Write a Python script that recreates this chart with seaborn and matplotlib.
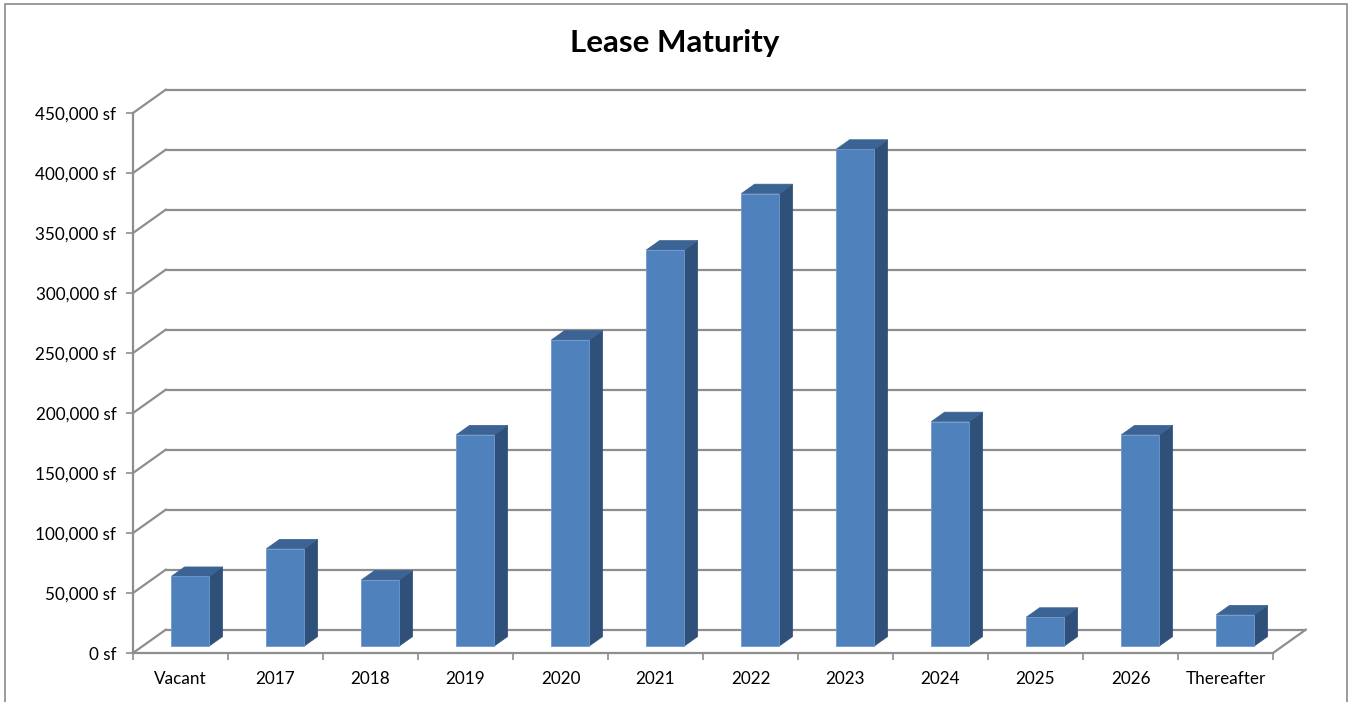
import matplotlib
matplotlib.use("Agg")
import matplotlib.pyplot as plt
from matplotlib.patches import Polygon, Rectangle
import seaborn as sns

# Lease maturity schedule (square feet)
categories = ["Vacant", "2017", "2018", "2019", "2020", "2021", "2022",
              "2023", "2024", "2025", "2026", "Thereafter"]
square_feet = [58000, 81000, 55000, 176000, 255000, 330000, 377000,
               414000, 187000, 24000, 176000, 26000]
y_ticks = [0, 50000, 100000, 150000, 200000, 250000, 300000, 350000,
           400000, 450000]
y_tick_labels = [f"{v:,} sf" for v in y_ticks]
title = "Lease Maturity"

sns.set_theme(style="white")
plt.rcParams["font.family"] = ["Lato", "DejaVu Sans"]

W, H, DPI = 1351, 702, 100
fig = plt.figure(figsize=(W / DPI, H / DPI), dpi=DPI)

# axes geometry in pixels
px_left, px_right, px_top, px_bottom = 133, 1312, 82, 653
px_per_cat = 95.0
px_per_sf = 540.0 / 450000
ax = fig.add_axes([px_left / W, 1 - px_bottom / H,
                   (px_right - px_left) / W, (px_bottom - px_top) / H])

n = len(categories)
x_lo = -0.5
x_hi = x_lo + (px_right - px_left) / px_per_cat
y_hi = (px_bottom - px_top) / px_per_sf

# oblique depth of the floor, in data units
DX = 33.0 / px_per_cat
DY = 23.5 / px_per_sf
bar_front, bar_depth = 0.3, 0.4

front = "#4F81BD"
side = "#2F5079"
top = "#3B6393"
grid = "#8E8E8E"

sns.barplot(x=categories, y=square_feet, color=front, width=0.4,
            saturation=1, ax=ax, zorder=3, edgecolor="#6E98CC", linewidth=0.6)

ax.set_xlim(x_lo, x_hi)
ax.set_ylim(0, y_hi)

# walls: back gridlines and left-wall diagonals
right_edge = x_lo + n
for v in y_ticks:
    ax.plot([x_lo + DX, right_edge + DX], [v + DY, v + DY], color=grid,
            lw=1.6, zorder=1, clip_on=False, solid_capstyle="butt")
    ax.plot([x_lo, x_lo + DX], [v, v + DY], color=grid, lw=1.6, zorder=1,
            clip_on=False)
# floor right edge
ax.plot([right_edge, right_edge + DX], [0, DY], color=grid, lw=1.6,
        zorder=1, clip_on=False)

# move front faces into the bar plane and extrude them
for patch in list(ax.patches):
    x0 = patch.get_x() + bar_front * DX
    y0 = bar_front * DY
    w = patch.get_width()
    h = patch.get_height()
    patch.set_x(x0)
    patch.set_y(y0)
    ddx, ddy = bar_depth * DX, bar_depth * DY
    ax.add_patch(Polygon([(x0 + w, y0), (x0 + w + ddx, y0 + ddy),
                          (x0 + w + ddx, y0 + h + ddy), (x0 + w, y0 + h)],
                         closed=True, facecolor=side, edgecolor=side,
                         lw=0.5, zorder=2.9))
    ax.add_patch(Polygon([(x0, y0 + h), (x0 + w, y0 + h),
                          (x0 + w + ddx, y0 + h + ddy), (x0 + ddx, y0 + h + ddy)],
                         closed=True, facecolor=top, edgecolor=top,
                         lw=0.5, zorder=2.9))

# axes, ticks and labels
for s in ["top", "right"]:
    ax.spines[s].set_visible(False)
ax.spines["left"].set_bounds(0, 450000)
ax.spines["bottom"].set_bounds(x_lo, right_edge)
for s in ["left", "bottom"]:
    ax.spines[s].set_color(grid)
    ax.spines[s].set_linewidth(1.6)
    ax.spines[s].set_zorder(1)

ax.set_yticks(y_ticks)
ax.set_yticklabels(y_tick_labels)
ax.set_xticks(range(n))
ax.set_xticklabels(categories)
ax.set_xticks([x_lo + i for i in range(n + 1)], minor=True)
ax.tick_params(axis="y", which="major", direction="out", length=5, width=1.2,
               color=grid, pad=7, labelsize=12.3, labelcolor="black", left=True)
ax.tick_params(axis="x", which="major", length=0, pad=13, labelsize=12.3,
               labelcolor="black")
ax.tick_params(axis="x", which="minor", direction="out", length=5, width=1.2,
               color=grid, bottom=True)
ax.set_xlabel("")
ax.set_ylabel("")
ax.grid(False)
ax.patch.set_alpha(0)

fig.text(675 / W, 1 - 43 / H, title, ha="center", va="center",
         fontsize=22.5, fontweight="bold", color="black")

# chart frame
fig.add_artist(Rectangle((5 / W, -0.05), (1347 - 5) / W, 1.05 - 4 / H,
                         transform=fig.transFigure, fill=False,
                         edgecolor="#8A8A8A", lw=1.2))

fig.savefig("out.png", dpi=DPI)
